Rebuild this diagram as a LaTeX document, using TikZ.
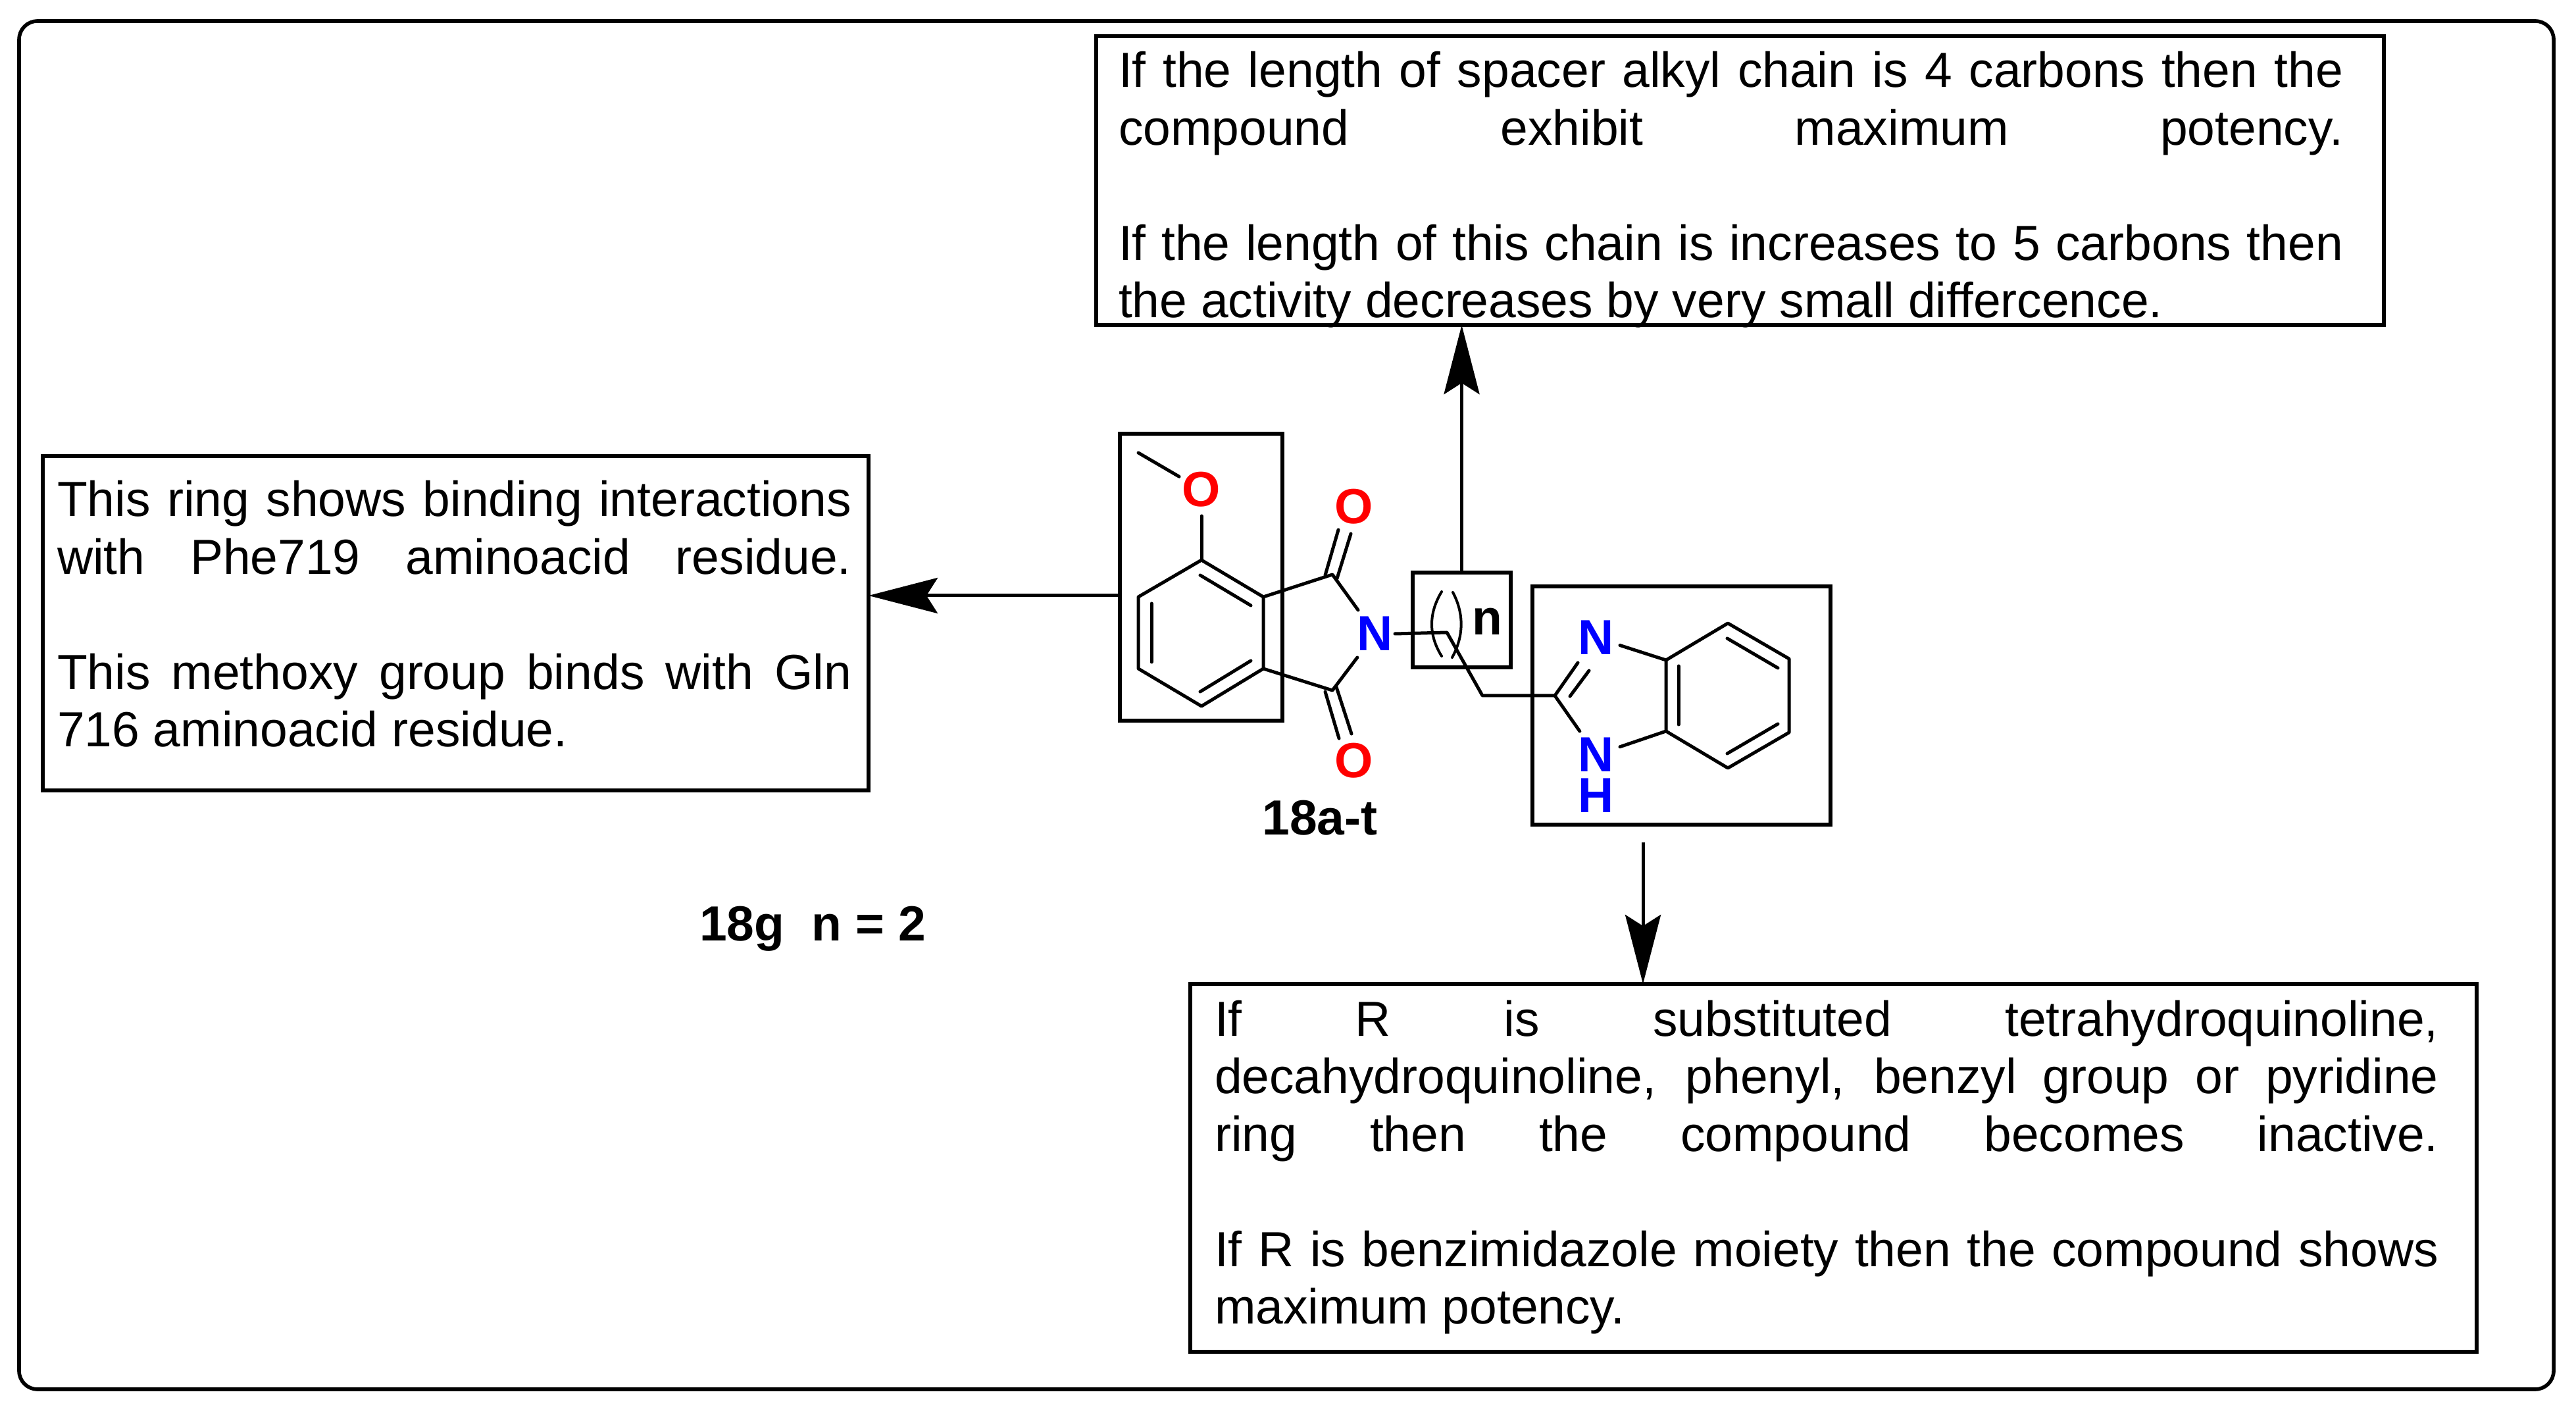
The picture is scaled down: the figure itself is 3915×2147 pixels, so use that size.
\documentclass[tikz,border=0pt]{standalone}
\usepackage{fontspec}
\setmainfont{Liberation Sans}
\usetikzlibrary{arrows.meta}
\newlength{\tw}
\newcommand{\jl}[1]{\hbox to \tw{#1}}
\newcommand{\nl}[1]{\hbox{#1}}
\newcommand{\gap}{\vskip\baselineskip}
\tikzset{
  frm/.style={draw=black,line width=1.4pt,rounded corners=7pt,inner sep=0,outer sep=0},
  bx/.style={draw=black,line width=1.3pt,inner sep=0,outer sep=0},
  para/.style={inner sep=0,outer sep=0,anchor=base west,font=\fontsize{18.75}{21.875}\selectfont},
  lab/.style={inner sep=0,outer sep=0,font=\fontsize{18.75}{21.875}\selectfont\bfseries},
  bd/.style={line width=1.25pt,line cap=round,line join=round},
  arr/.style={line width=1.25pt,-{Stealth[length=26.25pt,width=13.5pt,inset=4.25pt]}},
  atom/.style={lab,minimum width=#1*0.25pt,minimum height=18pt},
  oxy/.style={atom=68,minimum height=20pt,text=red},
  nit/.style={atom=72,text=blue},
}
\begin{document}
\begin{tikzpicture}[x=0.25pt,y=-0.25pt]
\useasboundingbox (0,0) rectangle (3915,2147);
% frame and boxes
\node[frm,minimum width=963pt,minimum height=519.75pt] (frame) at (1955,1071.5) {};
\node[bx,minimum width=313.75pt,minimum height=127pt] (lbox) at (692.5,947) {};
\node[bx,minimum width=489.25pt,minimum height=109.75pt] (tbox) at (2644.5,274.5) {};
\node[bx,minimum width=488.75pt,minimum height=139.75pt] (bbox) at (2786.5,1774.5) {};
\node[bx,minimum width=61.75pt,minimum height=109pt] (ringbox) at (1825.5,877) {};
\node[bx,minimum width=37.25pt,minimum height=36pt] (nbox) at (2221.5,942) {};
\node[bx,minimum width=113.25pt,minimum height=90.5pt] (hetbox) at (2555.5,1072) {};
% texts
\node[para] (ltext) at (87,785) {\setlength{\tw}{301.75pt}\vtop{%
  \jl{This ring shows binding interactions}
  \jl{with Phe719 aminoacid residue.}
  \gap
  \jl{This methoxy group binds with Gln}
  \nl{716 aminoacid residue.}}};
\node[para] (ttext) at (1700,133) {\setlength{\tw}{465.25pt}\vtop{%
  \jl{If the length of spacer alkyl chain is 4 carbons then the}
  \jl{compound exhibit maximum potency.}
  \gap
  \jl{If the length of this chain is increases to 5 carbons then}
  \nl{the activity decreases by very small differcence.}}};
\node[para] (btext) at (1846,1574) {\setlength{\tw}{465pt}\vtop{%
  \jl{If R is substituted tetrahydroquinoline,}
  \jl{decahydroquinoline, phenyl, benzyl group or pyridine}
  \jl{ring then the compound becomes inactive.}
  \gap
  \jl{If R is benzimidazole moiety then the compound shows}
  \nl{maximum potency.}}};
\node[lab,anchor=base] (cmpd) at (2006,1268) {18a-t};
\node[lab,anchor=base west] (series) at (1063,1429) {18g\ \ n = 2};
\node[lab,anchor=base] (nlab) at (2260,965) {n};
% arrows
\coordinate (lstart) at (1702,905);
\coordinate (bstart) at (2497,1280);
\draw[arr] (lstart) -- (lstart -| lbox.east);
\draw[arr] (nbox.north) -- (nbox.north |- tbox.south);
\draw[arr] (bstart) -- (bstart |- bbox.north);
% atoms
\node[oxy] (Om) at (1826,744) {O};
\node[oxy] (O1) at (2058,770) {O};
\node[oxy] (O2) at (2058,1156) {O};
\node[atom=60,text=blue] (Ni) at (2090,963) {N};
\node[nit] (N3) at (2426,969) {N};
\node[nit] (N1) at (2426,1147) {N};
\node[lab,text=blue] (H1) at (2426,1209) {H};
% carbons
\coordinate (a1) at (1826,851);
\coordinate (a2) at (1920,907);
\coordinate (a3) at (1920,1016);
\coordinate (a4) at (1826,1073);
\coordinate (a5) at (1730,1016);
\coordinate (a6) at (1730,907);
\coordinate (me) at (1730,688);
\coordinate (c1) at (2025,873);
\coordinate (c2) at (2025,1049);
\coordinate (ch1) at (2199,961);
\coordinate (ch2) at (2253,1057);
\coordinate (c5) at (2363,1057);
\coordinate (b1) at (2532,1003);
\coordinate (b2) at (2626,947);
\coordinate (b3) at (2719,1001);
\coordinate (b4) at (2719,1113);
\coordinate (b5) at (2626,1167);
\coordinate (b6) at (2532,1111);
% methoxy ring
\draw[bd] (a1) -- (a2) -- (a3) -- (a4) -- (a5) -- (a6) -- cycle;
\draw[bd] (Om) -- (a1);
\draw[bd] (me) -- (Om);
\draw[bd] (1824,874) -- (1901,920);
\draw[bd] (1824,1051) -- (1901,1004);
\draw[bd] (1750,917) -- (1750,1006);
% imide
\draw[bd] (a2) -- (c1) -- (Ni);
\draw[bd] (a3) -- (c2) -- (Ni);
\draw[bd] (2014,874) -- (2034,805);
\draw[bd] (2032,879) -- (2053,811);
\draw[bd] (2014,1051) -- (2035,1122);
\draw[bd] (2031,1044) -- (2054,1115);
% chain
\draw[bd] (Ni.east) -- (ch1) -- (ch2) -- (c5);
\draw[line width=1pt,line cap=round] (2191,899) .. controls (2171,932) and (2171,965) .. (2191,997);
\draw[line width=1pt,line cap=round] (2208,900) .. controls (2225,932) and (2225,966) .. (2207,999);
% benzimidazole
\draw[bd] (c5) -- (N1);
\draw[bd] (c5) -- (2398,1007);
\draw[bd] (2386,1058) -- (2415,1019);
\draw[bd] (N3) -- (b1);
\draw[bd] (N1) -- (b6);
\draw[bd] (b1) -- (b2) -- (b3) -- (b4) -- (b5) -- (b6) -- cycle;
\draw[bd] (2551,1012) -- (2551,1101);
\draw[bd] (2625,970) -- (2702,1015);
\draw[bd] (2625,1145) -- (2702,1100);
\end{tikzpicture}
\end{document}
